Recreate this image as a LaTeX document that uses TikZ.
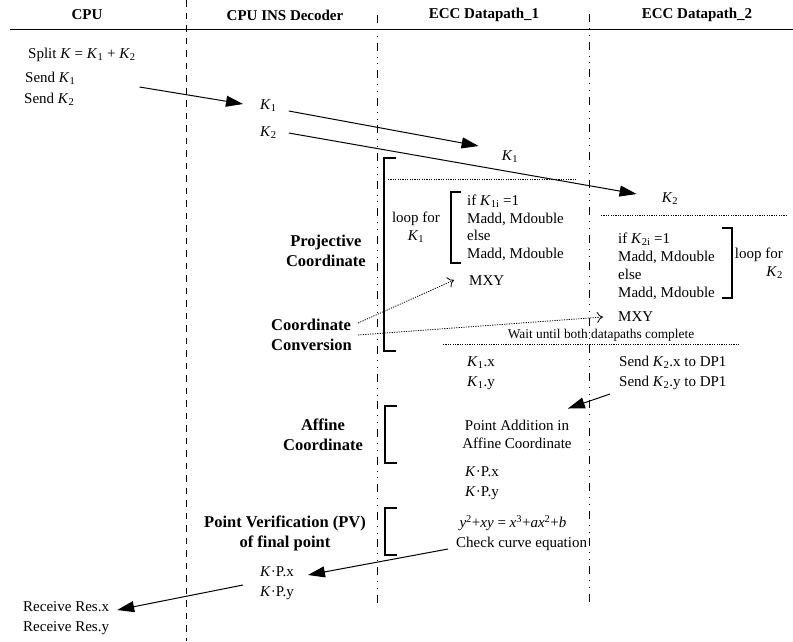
\documentclass[tikz,border=0pt]{standalone}
\usepackage{fontspec}
\setmainfont{Liberation Serif}
\usepackage{tikz}
\usetikzlibrary{arrows.meta}

\newcommand{\Ksub}[1]{\textit{K}\textsubscript{#1}}
\newcommand{\KP}{\textit{K}·P}

\tikzset{
  lbl/.style={inner sep=0pt, anchor=west, text height=10pt, text depth=3pt},
  hdr/.style={inner sep=0pt, font=\fontsize{15}{18}\selectfont\bfseries},
  phase/.style={inner sep=0pt, align=center, font=\fontsize{16.5}{20}\selectfont\bfseries},
  msg/.style={line width=1pt, -{Triangle[length=17pt,width=11pt]}},
  conv/.style={line width=0.8pt, dash pattern=on 1.2pt off 1.2pt, -{To[length=6pt,width=11pt]}},
  sep/.style={line width=0.8pt, dash pattern=on 1.2pt off 1.2pt},
  bracket/.style={line width=1.1pt},
  lane/.style={line width=0.8pt, dash pattern=on 8pt off 6pt on 0.8pt off 6pt on 0.8pt off 6pt},
}

\begin{document}
\begin{tikzpicture}[x=1pt, y=-1pt, font=\fontsize{15}{18}\selectfont]
    \useasboundingbox (0,0) rectangle (793,641);

    % headers and lanes
    \foreach \x/\name/\txt in {
        87/hcpu/CPU,
        285/hdec/CPU INS Decoder,
        484/hdpa/ECC Datapath\_1,
        697/hdpb/ECC Datapath\_2
    }{
        \node[hdr] (\name) at (\x,15) {\txt};
    }
    \draw[line width=1pt] (10,29.5) -- (793,29.5);
    \draw[line width=1pt, dash pattern=on 6.5pt off 6pt] (186,0) -- (186,641);
    \draw[lane] (377,15) -- (377,608);
    \draw[lane] (589,14) -- (589,602);

    % key split
    \node[lbl] (split) at (28,55) {Split \textit{K} = \Ksub{1} + \Ksub{2}};
    \node[lbl] (sendA) at (25,79) {Send \Ksub{1}};
    \node[lbl] (sendB) at (24,100) {Send \Ksub{2}};
    \node[lbl] (decA) at (260,106) {\Ksub{1}};
    \node[lbl] (decB) at (260,133) {\Ksub{2}};
    \node[inner sep=0pt] (dpaK) at (510,157) {\Ksub{1}};
    \node[inner sep=0pt] (dpbK) at (670,199) {\Ksub{2}};

    \draw[msg] ([xshift=64pt,yshift=-8pt]sendA.east) -- ([xshift=-17pt,yshift=2pt]decA.west);
    \draw[msg] ([xshift=12pt,yshift=-5pt]decA.east) -- ([xshift=-23pt,yshift=11pt]dpaK.west);
    \draw[msg] ([xshift=12pt]decB.east) -- ([xshift=-25pt,yshift=5pt]dpbK.west);

    % projective loop
    \draw[bracket] (396,158) -| (384,351) -- (396,351);
    \draw[sep] (388,179) -- (576,179);
    \draw[sep] (601,215) -- (787,215);
    \node[phase, anchor=east] (proj) at (366,251) {Projective\\Coordinate};
    \node[inner sep=0pt, align=center] (loopA) at (416,227) {loop for\\\Ksub{1}};
    \draw[bracket] (461,192) -| (451,263) -- (461,263);
    \node[inner sep=0pt, anchor=west, align=left, font=\fontsize{15}{17.7}\selectfont] (bodyA) at (467,228)
        {if \Ksub{1i} =1\\Madd, Mdouble\\else\\Madd, Mdouble};
    \node[lbl] (mxyA) at (469,282) {MXY};
    \node[inner sep=0pt, anchor=west, align=left, font=\fontsize{15}{18}\selectfont] (bodyB) at (618,266)
        {if \Ksub{2i} =1\\Madd, Mdouble\\else\\Madd, Mdouble};
    \draw[bracket] (722,228) -| (732,298) -- (722,298);
    \node[inner sep=0pt, anchor=east, align=right] (loopB) at (783,263) {loop for\\\Ksub{2}};
    \node[lbl] (mxyB) at (618,318) {MXY};

    % conversion
    \node[phase, anchor=west, align=left] (conv) at (271,335) {Coordinate\\Conversion};
    \draw[conv] ([xshift=6pt,yshift=12pt]conv.east) -- ([xshift=-15pt,yshift=2pt]mxyA.west);
    \draw[conv] ([xshift=6pt]conv.east) -- ([xshift=-15pt,yshift=1pt]mxyB.west);
    \node[inner sep=0pt, font=\fontsize{13.4}{16}\selectfont] (wait) at (601,335) {Wait until both datapaths complete};
    \draw[sep] (443,344) -- (740,344);

    \node[lbl] (kax) at (467,363) {\Ksub{1}.x};
    \node[lbl] (kay) at (467,383) {\Ksub{1}.y};
    \node[lbl] (sbx) at (619,363) {Send \Ksub{2}.x to DP1};
    \node[lbl] (sby) at (619,383) {Send \Ksub{2}.y to DP1};

    % affine addition
    \draw[bracket] (397,406) -| (385,463) -- (397,463);
    \node[phase] (aff) at (323,435) {Affine\\Coordinate};
    \node[inner sep=0pt, align=center] (padd) at (517,434) {Point Addition in\\Affine Coordinate};
    \draw[msg] ([xshift=-9pt,yshift=-11pt]sby.west) -- ([xshift=-4pt,yshift=11pt]padd.north east);
    \node[lbl] (kpx) at (465,473) {\KP.x};
    \node[lbl] (kpy) at (465,493) {\KP.y};

    % point verification
    \draw[bracket] (397,508) -| (385,555) -- (397,555);
    \node[phase] (pv) at (285,533) {Point Verification (PV)\\of final point};
    \node[inner sep=0pt] (eq) at (513,523)
        {\textit{y}\textsuperscript{2}+\textit{xy} = \textit{x}\textsuperscript{3}+\textit{ax}\textsuperscript{2}+\textit{b}};
    \node[lbl] (chk) at (456,544) {Check curve equation};
    \node[lbl] (dkx) at (260,573) {\KP.x};
    \node[lbl] (dky) at (260,593) {\KP.y};
    \draw[msg] ([xshift=-8pt,yshift=-5pt]chk.west) -- ([xshift=14pt,yshift=-2pt]dkx.east);

    % result
    \node[lbl] (rx) at (23,608) {Receive Res.x};
    \node[lbl] (ry) at (23,628) {Receive Res.y};
    \draw[msg] ([xshift=-17pt,yshift=8pt]dky.west) -- ([xshift=8pt,yshift=-2pt]rx.east);
\end{tikzpicture}
\end{document}
